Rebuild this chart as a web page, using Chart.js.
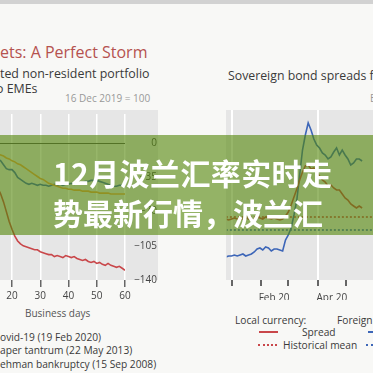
<!DOCTYPE html>
<html lang="zh">
<head>
<meta charset="UTF-8">
<title>12月波兰汇率实时走势</title>
<script src="https://cdn.jsdelivr.net/npm/chart.js"></script>
<style>
  body { margin:0; width:373px; height:373px; overflow:hidden; position:relative; background:#f8f8f6; font-family:"Open Sans", sans-serif; color:#3a3a3a; }
  .t { position:absolute; white-space:nowrap; line-height:1; }
  .panel { position:absolute; background:#e6e6e6; }
  canvas { position:absolute; }
  .strip { position:absolute; left:0; top:0; width:373px; height:4px; background:#d2d2d2; }
  .banner { position:absolute; left:0; top:135px; width:373px; height:100px; background:rgba(82,133,7,0.6); }
  .head { position:absolute; left:53px; color:#fff; font-family:"Noto Sans CJK SC", sans-serif; font-weight:700; font-size:30px; line-height:40px; white-space:nowrap; }
  .sample { position:absolute; height:0; }
</style>
</head>
<body>
<div class="strip"></div>

<!-- left: portfolio flows -->
<div class="t" style="left:0;top:44px;font-size:16px;color:#b5524f;">ets: A Perfect Storm</div>
<div class="t" style="left:0;top:68px;font-size:12.4px;">ted non-resident portfolio</div>
<div class="t" style="left:-4px;top:83px;font-size:12.4px;">o EMEs</div>
<div class="t" style="left:65px;top:93px;font-size:10px;color:#999;">16 Dec 2019 = 100</div>
<div class="panel" style="left:0;top:110px;width:158px;height:170px;"></div>
<canvas id="flows" width="230" height="200" style="left:-60px;top:100px;"></canvas>
<div class="t" style="left:25px;top:308px;font-size:10px;color:#555;">Business days</div>
<div class="t" style="left:0;top:332px;font-size:10.2px;">ovid-19 (19 Feb 2020)</div>
<div class="t" style="left:0;top:345px;font-size:10.2px;">aper tantrum (22 May 2013)</div>
<div class="t" style="left:0;top:359px;font-size:10.2px;">ehman bankruptcy (15 Sep 2008)</div>

<!-- right: sovereign spreads -->
<div class="t" style="left:228px;top:70px;font-size:12.3px;">Sovereign bond spreads for EMEs</div>
<div class="t" style="left:370px;top:93px;font-size:10px;color:#999;">EMBI</div>
<div class="panel" style="left:226px;top:110px;width:147px;height:170px;"></div>
<canvas id="spreads" width="184" height="200" style="left:226px;top:100px;"></canvas>
<div class="t" style="left:235px;top:315px;font-size:10.2px;">Local currency:</div>
<div class="t" style="left:337px;top:315px;font-size:10.2px;">Foreign currency:</div>
<div class="sample" style="left:259px;top:331px;width:19px;border-top:2px solid #c9474a;"></div>
<div class="t" style="left:302px;top:327px;font-size:10.2px;">Spread</div>
<div class="sample" style="left:258px;top:344px;width:19px;border-top:2px dotted #c9474a;"></div>
<div class="t" style="left:283px;top:340px;font-size:10.2px;">Historical mean</div>
<div class="sample" style="left:368px;top:331px;width:19px;border-top:2px solid #3d66b8;"></div>
<div class="sample" style="left:366px;top:344px;width:19px;border-top:2px dotted #3d66b8;"></div>

<div class="banner"></div>
<div class="head" style="top:152px;letter-spacing:0.4px;">12月波兰汇率实时走</div>
<div class="head" style="top:192px;">势最新行情，波兰汇</div>

<script>
// left panel: business days after each shock, 16 Dec 2019 = 100
const businessDays = [0,1,2,3,4,5,6,7,8,9,10,11,12,13,14,15,16,17,18,19,20,21,22,23,24,25,26,27,28,29,30,
  31,32,33,34,35,36,37,38,39,40,41,42,43,44,45,46,47,48,49,50,51,52,53,54,55,56,57,58,59,60];
const covid = [0,-1,-2,-2,-4,-5,-7,-9,-12,-15,-19,-24,-29,-35,-41,-46,-52,-60,-70,-80,-88,
  -95,-100,-103,-105,-106,-107,-108,-109,-109,-111,-112,-113,-114,-114,-116,-115,-116,-117,-115,-116,
  -117,-116,-118,-119,-120,-119,-121,-122,-121,-123,-122,-124,-125,-123,-125,-126,-127,-126,-128,-130];
const taper = [0,-1,-1,-2,-3,-3,-4,-5,-6,-7,-8,-9,-11,-12,-14,-16,-18,-22,-26,-27,-27,
  -30,-35,-37,-39,-41,-42,-41,-42,-43,-42,-43,-43,-44,-43,-42,-43,-42,-43,-42,-42,
  -41,-42,-41,-41,-40,-39,-39,-38,-38,-38,-39,-40,-41,-42,-43,-44,-44,-43,-43,-42];
const lehman = [0,-1,-1,-1,-2,-2,-3,-4,-4,-5,-6,-7,-8,-9,-10,-11,-12,-13,-15,-16,-18,
  -19,-21,-22,-24,-26,-28,-30,-32,-34,-36,-37,-39,-41,-42,-43,-44,-45,-46,-46,-47,
  -47,-48,-48,-48,-49,-49,-49,-50,-50,-50,-51,-51,-51,-51,-52,-52,-52,-52,-52,-52];
const dayTicks = [0,10,20,30,40,50,60];
const levelTicks = [-140,-105,-70,-35,0];

// right panel: days since 1 Jan 2020, spreads in bp
const spreadDays = [-6,-3,0,3,6,9,12,15,18,21,24,27,30,33,36,39,42,45,48,51,54,57,60,63,66,69,72,75,78,81,
  84,87,90,93,96,99,102,105,108,111,114,117,120,123,126,129,132,135,138];
const localSpread = [244,240,244,248,244,240,244,248,244,240,244,252,248,244,252,248,244,248,244,240,
  244,256,272,300,332,364,400,432,456,460,444,448,432,416,400,392,376,380,368,360,
  360,344,328,320,304,296,288,296,288];
const foreignSpread = [92,96,96,100,96,100,104,96,100,104,112,124,128,120,132,128,116,124,124,120,
  116,160,180,208,260,320,420,520,580,628,600,564,540,528,508,500,484,492,512,528,
  500,520,500,484,460,468,484,484,476];
const localMean = 252;
const foreignMean = 200;
const monthTicks = [0,31,45,60,91,106,121,152,167];
const monthLabels = {45:'Feb 20', 106:'Apr 20', 167:'Jun 20'};
const quarterStarts = [0,91,182];

const RED = '#c9474a', BLUE = '#3d66b8', GOLD = '#f0a24a';
const clear = 'rgba(0,0,0,0)';

function series(xs, ys, color, dash) {
  return {
    data: xs.map(function(x, i) { return {x: x, y: ys[i]}; }),
    borderColor: color, borderWidth: 1.6, borderDash: dash || [],
    pointRadius: 0, tension: 0
  };
}

// y labels: only the values listed in levelTicks, with a real minus sign
function levelLabel(v) {
  if (levelTicks.indexOf(v) < 0) return '';
  return v < 0 ? '\u2212' + Math.abs(v) : '' + v;
}

new Chart(document.getElementById('flows'), {
  type: 'line',
  data: { datasets: [
    series(businessDays, lehman, GOLD),
    series(businessDays, taper, BLUE),
    series(businessDays, covid, RED)
  ]},
  options: {
    responsive: false, animation: false,
    layout: { padding: { left: 15.5, top: 10, right: 13, bottom: 0 } },
    plugins: { legend: { display: false }, tooltip: { enabled: false } },
    scales: {
      x: {
        type: 'linear', min: 0, max: 60,
        afterBuildTicks: function(s) { s.ticks = dayTicks.map(function(v) { return {value: v}; }); },
        afterFit: function(s) { s.height = 20; },
        grid: { color: '#ffffff', lineWidth: 1.5, tickColor: '#666', tickLength: 7 },
        border: { display: false },
        ticks: { color: '#444', font: { family: 'Open Sans', size: 10 }, padding: 3, maxRotation: 0, autoSkip: false }
      },
      y: {
        type: 'linear', position: 'right', min: -140, max: 30,
        afterFit: function(s) { s.width = 32; },
        grid: { color: function(c) { return c.tick && c.tick.value === 0 ? '#555' : clear; }, drawTicks: false },
        border: { display: false },
        ticks: { stepSize: levelTicks[1] - levelTicks[0], includeBounds: false, autoSkip: false, z: 1,
                 color: '#444', font: { family: 'Open Sans', size: 10 }, padding: 8, crossAlign: 'far',
                 callback: levelLabel }
      }
    }
  }
});

new Chart(document.getElementById('spreads'), {
  type: 'line',
  data: { datasets: [
    series([-6, 172], [localMean, localMean], RED, [2, 2]),
    series([-6, 172], [foreignMean, foreignMean], BLUE, [2, 2]),
    series(spreadDays, localSpread, RED),
    series(spreadDays, foreignSpread, BLUE)
  ]},
  options: {
    responsive: false, animation: false,
    layout: { padding: { left: 0, top: 10, right: 0, bottom: 0 } },
    plugins: { legend: { display: false }, tooltip: { enabled: false } },
    scales: {
      x: {
        type: 'linear', min: -5, max: 172,
        afterBuildTicks: function(s) { s.ticks = monthTicks.map(function(v) { return {value: v}; }); },
        afterFit: function(s) { s.height = 20; },
        grid: {
          color: function(c) { return c.tick && quarterStarts.indexOf(c.tick.value) >= 0 ? '#ffffff' : clear; },
          lineWidth: 2,
          tickColor: function(c) { return c.tick && monthLabels[c.tick.value] ? clear : '#666'; },
          tickLength: 6
        },
        border: { display: false },
        ticks: { color: '#444', font: { family: 'Open Sans', size: 10 }, padding: 6, maxRotation: 0, autoSkip: false,
                 callback: function(v) { return monthLabels[v] || ''; } }
      },
      y: { display: false, min: 0, max: 680 }
    }
  }
});
</script>
</body>
</html>
